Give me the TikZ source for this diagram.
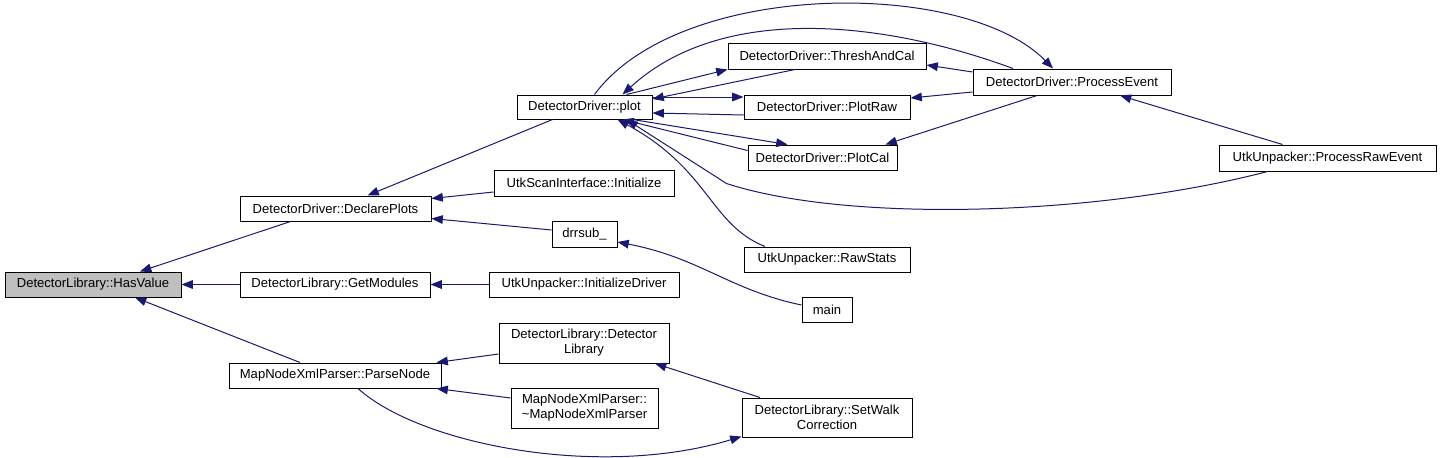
\documentclass[tikz,border=0pt]{standalone}
\usepackage{fontspec}
\setmainfont{Liberation Sans}
\usetikzlibrary{arrows.meta,calc}
\definecolor{edgeblue}{RGB}{25,25,112}
\definecolor{hvgray}{RGB}{191,191,191}
\tikzset{
  fn/.style 2 args={draw=black, line width=0.75pt, fill=white, rectangle, inner sep=0pt,
    minimum width=#1*0.75pt, minimum height=#2*0.75pt, align=center,
    font=\fontsize{9.8}{11.3}\selectfont},
  call/.style={draw=edgeblue, line width=0.75pt, -{Triangle[length=8.5pt,width=6.5pt]}},
}
\begin{document}
\begin{tikzpicture}[x=0.75pt,y=-0.75pt]
\useasboundingbox (0,0) rectangle (1441,457);
% nodes
\node[fn={176}{25}, fill=hvgray] (hv) at (93,284.5) {DetectorLibrary::HasValue};
\node[fn={191}{25}] (dp) at (335.5,208.5) {DetectorDriver::DeclarePlots};
\node[fn={190}{25}] (gm) at (335,284.5) {DetectorLibrary::GetModules};
\node[fn={212}{25}] (pn) at (335,375.5) {MapNodeXmlParser::ParseNode};
\node[fn={135}{24}] (plot) at (584.5,107) {DetectorDriver::plot};
\node[fn={198}{26}] (tac) at (827,56) {DetectorDriver::ThreshAndCal};
\node[fn={166}{24}] (praw) at (827,107) {DetectorDriver::PlotRaw};
\node[fn={149}{25}] (pcal) at (822.5,157.5) {DetectorDriver::PlotCal};
\node[fn={180}{26}] (usi) at (584,183) {UtkScanInterface::Initialize};
\node[fn={198}{26}] (pe) at (1072,82) {DetectorDriver::ProcessEvent};
\node[fn={217}{26}] (pre) at (1327.5,158) {UtkUnpacker::ProcessRawEvent};
\node[fn={65}{26}] (drr) at (584.5,234) {drrsub\_};
\node[fn={190}{25}] (idrv) at (584,284.5) {UtkUnpacker::InitializeDriver};
\node[fn={166}{25}] (rs) at (827,259.5) {UtkUnpacker::RawStats};
\node[fn={50}{25}] (main) at (827,309.5) {main};
\node[fn={170}{40}] (dld) at (584,343) {DetectorLibrary::Detector\\Library};
\node[fn={147}{40}] (mnx) at (584.5,408) {MapNodeXmlParser::\\\textasciitilde MapNodeXmlParser};
\node[fn={170}{39}] (swc) at (827,417.5) {DetectorLibrary::SetWalk\\Correction};
% edges
\draw[call] ($(dp.south)+(-45,0)$) -- ($(hv.north)+(47,0)$);
\draw[call] (gm.west) -- (hv.east);
\draw[call] ($(pn.north)+(-35,0)$) -- ($(hv.south)+(42,0)$);
\draw[call] ($(plot.south)+(-32,0)$) -- ($(dp.north)+(32,0)$);
\draw[call] ($(usi.west)+(0,9)$) -- ($(dp.east)+(0,-10)$);
\draw[call] ($(drr.west)+(0,-4)$) -- ($(dp.east)+(0,10)$);
\draw[call] (idrv.west) -- (gm.east);
\draw[call] ($(dld.west)+(0,11)$) -- ($(pn.north east)+(-5,0)$);
\draw[call] ($(mnx.west)+(0,-10)$) -- ($(pn.south east)+(-5,0)$);
\draw[call] ($(pn.south)+(23,0)$) .. controls +(62,56) and +(-142,43) .. ($(swc.south west)+(0,-1)$);
\draw[call] ($(swc.north)+(-67,0)$) -- ($(dld.south)+(71,0)$);
\draw[call] ($(main.west)+(0,-4.5)$) .. controls +(-72,-15) and +(83,16) .. ($(drr.east)+(0,8)$);
\draw[call] ($(tac.south)+(-32,0)$) -- ($(plot.east)+(0,-8)$);
\draw[call] ($(plot.north)+(42,0)$) -- (tac.south west);
\draw[call] ($(plot.east)+(0,-10)$) -- ($(praw.west)+(0,-10)$);
\draw[call] ($(praw.west)+(0,8)$) -- ($(plot.east)+(0,6)$);
\draw[call] ($(plot.south)+(48,0)$) -- ($(pcal.north)+(-35,0)$);
\draw[call] ($(pcal.west)+(0,-7)$) -- ($(plot.south)+(38,0)$);
\draw[call] ($(rs.north)+(-62,0)$) .. controls +(-55,-22) and +(92,50) .. ($(plot.south)+(33,0)$);
\draw[call] ($(pre.south)+(-60,0)$) .. controls +(-168,44) and +(123,40) .. ($(plot.south)+(142,64)$) -- ($(plot.south)+(42,0)$);
\draw[call] ($(plot.north)+(10,0)$) .. controls +(85,-115) and +(-88,-90) .. ($(pe.north)+(-19,0)$);
\draw[call] ($(pe.north)+(-59,0)$) .. controls +(-133,-49) and +(98,-90) .. ($(plot.north)+(38,0)$);
\draw[call] ($(pe.west)+(0,-10)$) -- ($(tac.east)+(0,9)$);
\draw[call] ($(pe.west)+(0,10)$) -- ($(praw.east)+(0,-9)$);
\draw[call] ($(pe.south)+(-35,0)$) -- ($(pcal.north east)+(-12,0)$);
\draw[call] ($(pre.north)+(-45,0)$) -- ($(pe.south)+(48,0)$);
\end{tikzpicture}
\end{document}
